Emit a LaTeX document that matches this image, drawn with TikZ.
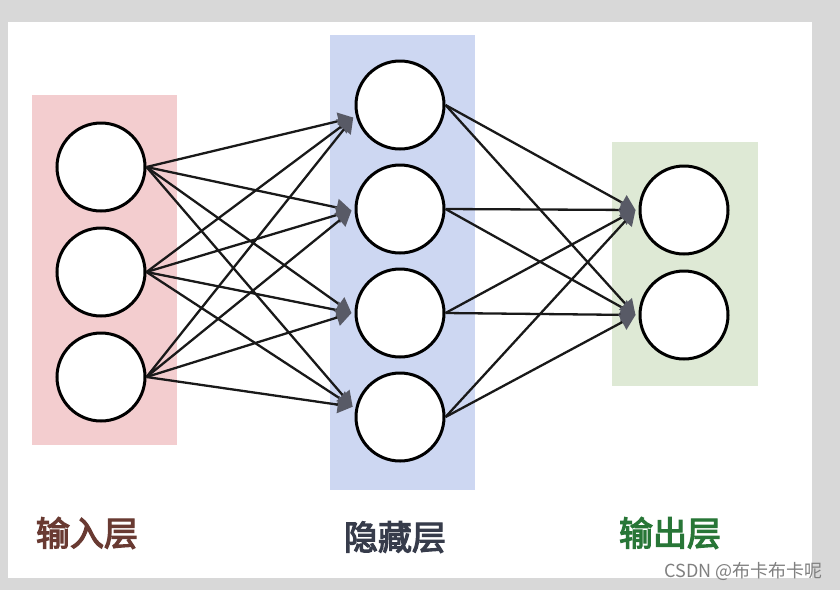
\documentclass[tikz,border=0pt]{standalone}
\usepackage{fontspec}
\newfontfamily\cjk{Noto Sans CJK SC}
\newfontfamily\cjklabel[FakeBold=3.5]{Noto Sans CJK SC}
\usetikzlibrary{arrows.meta}
\definecolor{framegray}{RGB}{216,216,216}
\definecolor{inpink}{RGB}{243,205,207}
\definecolor{hidblue}{RGB}{205,215,242}
\definecolor{outgreen}{RGB}{222,233,213}
\definecolor{tipgray}{RGB}{88,90,102}
\definecolor{inbrown}{RGB}{105,58,50}
\definecolor{hidslate}{RGB}{55,60,75}
\definecolor{outtext}{RGB}{40,118,55}
\begin{document}
\begin{tikzpicture}[x=1pt,y=-1pt,
        neuron/.style={circle,draw=black,line width=3pt,fill=white,minimum size=88pt,inner sep=0pt},
        link/.style={draw=black!90,line width=2.3pt,-{Triangle[color=tipgray,length=15pt,width=17pt]}},
        layername/.style={font=\cjklabel\fontsize{34}{34}\selectfont}]
            % frame of the screenshot
            \fill[framegray] (0,0) rectangle (840,590);
            \fill[white] (8,22) rectangle (812,578);
            \useasboundingbox (0,0) rectangle (840,590);

            % layer boxes
            \fill[inpink] (32,95) rectangle (177,445);
            \fill[hidblue] (330,35) rectangle (475,490);
            \fill[outgreen] (612,142) rectangle (758,386);

            % neurons
            \foreach \n/\y in {1/167,2/272,3/377}
                \node[neuron] (i\n) at (101,\y) {};
            \foreach \n/\y in {1/105,2/209,3/313,4/417}
                \node[neuron] (h\n) at (400,\y) {};
            \foreach \n/\y in {1/210,2/315}
                \node[neuron] (o\n) at (684,\y) {};

            % connections
            \foreach \a in {1,2,3}
                {
                    \foreach \b/\ang in {1/196,2/182,3/180,4/167}
                    \draw[link] (i\a.east) -- ([xshift=-3pt]h\b.\ang);
                }
            \foreach \b in {1,...,4}
                {
                    \foreach \c in {1,2}
                    \draw[link] (h\b.east) -- ([xshift=-3pt]o\c.west);
                }

            % layer names
            \node[layername,text=inbrown] (inname) at (87,533) {输入层};
            \node[layername,text=hidslate] (hidname) at (395,537) {隐藏层};
            \node[layername,text=outtext] (outname) at (670,533) {输出层};
            \node[anchor=east,text=black!50,font=\cjk\fontsize{18}{18}\selectfont] (mark) at (826,571) {CSDN @布卡布卡呢};
        \end{tikzpicture}
\end{document}
